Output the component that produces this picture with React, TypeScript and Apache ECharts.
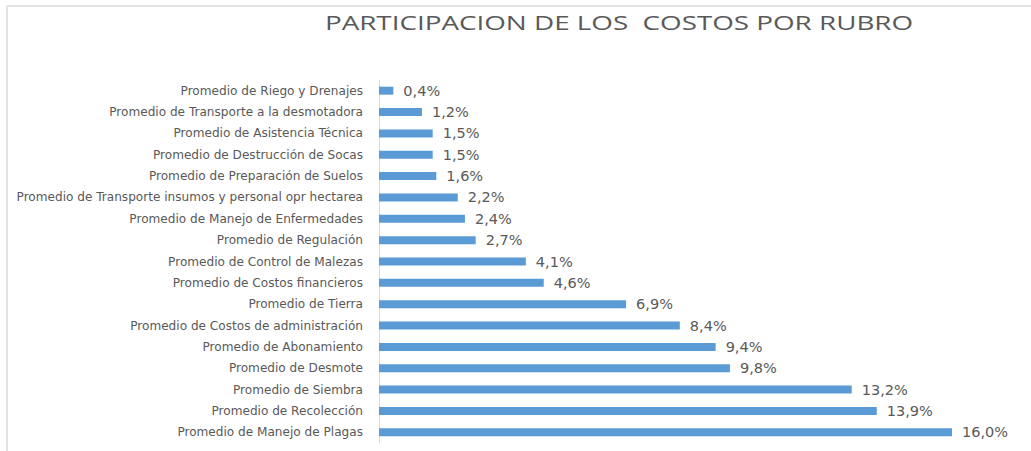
import React, { useEffect, useRef } from "react";
import * as echarts from "echarts";

const categories = [
  "Promedio de Riego y Drenajes",
  "Promedio de Transporte a la desmotadora",
  "Promedio de Asistencia Técnica",
  "Promedio de Destrucción de Socas",
  "Promedio de Preparación de Suelos",
  "Promedio de Transporte insumos y personal opr hectarea",
  "Promedio de Manejo de Enfermedades",
  "Promedio de Regulación",
  "Promedio de Control de Malezas",
  "Promedio de Costos financieros",
  "Promedio de Tierra",
  "Promedio de Costos de administración",
  "Promedio de Abonamiento",
  "Promedio de Desmote",
  "Promedio de Siembra",
  "Promedio de Recolección",
  "Promedio de Manejo de Plagas",
];

const values = [0.4, 1.2, 1.5, 1.5, 1.6, 2.2, 2.4, 2.7, 4.1, 4.6, 6.9, 8.4, 9.4, 9.8, 13.2, 13.9, 16.0];

const title = "PARTICIPACION DE LOS  COSTOS POR RUBRO";

export default function App() {
  const ref = useRef<HTMLDivElement>(null);
  useEffect(() => {
    if (!ref.current) return;
    const chart = echarts.init(ref.current, undefined, { renderer: "svg" });
    chart.setOption({
      animation: false,
      backgroundColor: "#ffffff",
      graphic: [
        {
          type: "rect",
          shape: { x: 7, y: 6, width: 1100, height: 500 },
          style: { fill: "none", stroke: "#e3e3e3", lineWidth: 2 },
          silent: true,
        },
        {
          type: "text",
          x: 619,
          y: 22,
          scaleX: 1.39,
          style: {
            text: title,
            align: "center",
            verticalAlign: "middle",
            fontFamily: "Open Sans",
            fontSize: 20,
            fill: "#595959",
          },
          silent: true,
        },
      ],
      grid: { left: 379, right: 79, top: 80, bottom: 8 },
      xAxis: {
        type: "value",
        min: 0,
        max: 16,
        show: false,
      },
      yAxis: {
        type: "category",
        data: categories,
        inverse: true,
        axisLine: { show: true, lineStyle: { color: "#d9d9d9", width: 1 } },
        axisTick: { show: false },
        axisLabel: {
          margin: 16,
          fontFamily: "DejaVu Sans",
          fontSize: 12.1,
          color: "#595959",
        },
      },
      series: [
        {
          type: "bar",
          data: values,
          barWidth: 8,
          itemStyle: { color: "#5b9bd5" },
          label: {
            show: true,
            position: "right",
            distance: 10,
            fontFamily: "DejaVu Sans",
            fontSize: 14.5,
            color: "#595959",
            formatter: (p: any) => p.value.toFixed(1).replace(".", ",") + "%",
          },
        },
      ],
    });
    return () => chart.dispose();
  }, []);
  return (
    <div
      ref={ref}
      style={{ position: "fixed", left: 0, top: 0, width: 1031, height: 451 }}
    />
  );
}
